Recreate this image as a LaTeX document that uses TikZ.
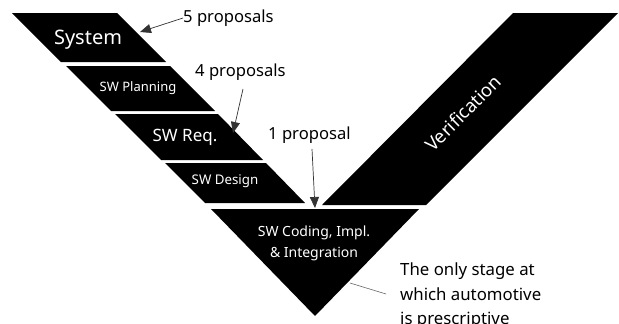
\documentclass[tikz,border=0pt]{standalone}
\usepackage{fontspec}
\setmainfont{Noto Sans}
\usetikzlibrary{arrows.meta}
\tikzset{
  band/.style={fill=black},
  bandtext/.style={text=white, inner sep=0pt, anchor=center},
  note/.style={text=black, inner sep=0pt, font=\fontsize{16.6}{20}\selectfont},
  pointer/.style={draw=black!80, line width=0.7pt, -{Triangle[length=11pt,width=9pt]}},
  leader/.style={draw=black!60, line width=0.6pt}
}
\begin{document}
\begin{tikzpicture}[x=1pt,y=-1pt]
  \useasboundingbox (0,0) rectangle (619,324);
  \fill[white] (0,0) rectangle (619,324);

  % left arm of the V, stage by stage
  \fill[band] (12,13) -- (117,13) -- (166,62) -- (61,62) -- cycle;
  \fill[band] (66,66) -- (170,66) -- (215,111) -- (111,111) -- cycle;
  \fill[band] (115,114) -- (218,114) -- (263,160) -- (161,160) -- cycle;
  \fill[band] (165,163) -- (266,163) -- (305,203) -- (205,203) -- cycle;
  % right arm
  \fill[band] (513,13) -- (618,13) -- (426,205) -- (322,205) -- cycle;
  % bottom of the V
  \fill[band] (211,209) -- (419,209) -- (315,316) -- cycle;

  % stage labels
  \node[bandtext, font=\fontsize{20}{24}\selectfont] (sys) at (88,40) {System};
  \node[bandtext, font=\fontsize{13}{16}\selectfont] (plan) at (138,88) {SW Planning};
  \node[bandtext, font=\fontsize{17}{20}\selectfont] (req) at (185,137) {SW Req.};
  \node[bandtext, font=\fontsize{13.3}{16}\selectfont] (des) at (225,181) {SW Design};
  \node[bandtext, font=\fontsize{14}{21}\selectfont, align=center] (code) at (314,243)
    {SW Coding, Impl.\\\& Integration};
  \node[bandtext, font=\fontsize{18.5}{22}\selectfont, rotate=45] (ver) at (463,113) {Verification};

  % annotations
  \node[note, anchor=west] (p5) at (183,18) {5 proposals};
  \node[note, anchor=west] (p4) at (195,72) {4 proposals};
  \node[note, anchor=west] (p1) at (268,135) {1 proposal};
  \node[note, anchor=north west, align=left, font=\fontsize{16.8}{24.5}\selectfont]
    (only) at (400,263) {The only stage at\\which automotive\\is prescriptive};

  \coordinate (t5) at (140,32);
  \coordinate (t4) at (233,133);
  \coordinate (t1) at (315,208);
  \coordinate (tc) at (350,283);

  \draw[pointer] (p5.west) -- (t5);
  \draw[pointer] (243,89) -- (t4);
  \draw[pointer] (312,149) -- (t1);
  \draw[leader] (only.west |- 0,294) ++(-14,0) -- (tc);
\end{tikzpicture}
\end{document}
